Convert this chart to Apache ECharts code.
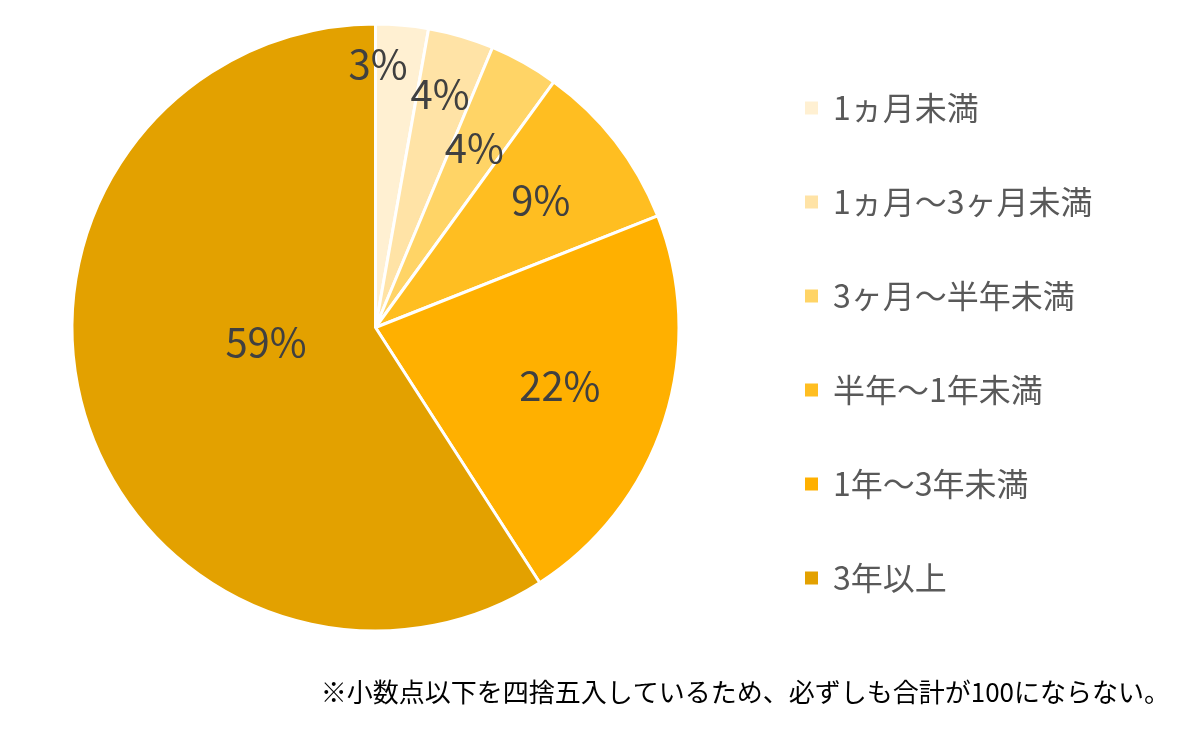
<!DOCTYPE html>
<html>
<head>
<meta charset="utf-8">
<script src="https://cdn.jsdelivr.net/npm/echarts@6/dist/echarts.min.js"></script>
<style>
  html, body { margin: 0; padding: 0; background: #fff; }
  #chart { width: 1200px; height: 730px; }
</style>
</head>
<body>
<div id="chart"></div>
<script>
// 期間ごとの割合（%）
const categories = ['1ヵ月未満', '1ヵ月〜3ヶ月未満', '3ヶ月〜半年未満', '半年〜1年未満', '1年〜3年未満', '3年以上']
const values = [2.8, 3.5, 3.7, 9.0, 21.9, 59.1]
const labels = ['3%', '4%', '4%', '9%', '22%', '59%']
const note = '※小数点以下を四捨五入しているため、必ずしも合計が100にならない。'

const colors = ['#FFF0D2', '#FFE3A6', '#FFD466', '#FFBE21', '#FFB000', '#E3A100']
// ラベルの位置調整（Excelのベストフィット風）
const labelOffsets = [[-11, -110], [21, -85], [23, -45], [43, -33], [37, 11], [39, -29]]

const font = '"Noto Sans CJK JP", "Noto Sans", sans-serif'

let chart = echarts.init(document.getElementById('chart'))

let data = categories.map((name, i) => {
  return {
    name: name,
    value: values[i],
    itemStyle: { color: colors[i] },
    label: { offset: labelOffsets[i] }
  }
})

let option = {
  animation: false,
  legend: {
    orient: 'vertical',
    left: 803,
    top: 91,
    padding: 0,
    icon: 'rect',
    itemWidth: 15,
    itemHeight: 15,
    itemGap: 60,
    textStyle: {
      color: '#595959',
      fontSize: 32,
      lineHeight: 34,
      fontFamily: font,
      padding: [0, 0, 0, 9]
    },
    data: categories
  },
  graphic: [
    {
      type: 'text',
      right: 30,
      top: 679,
      style: {
        text: note,
        fill: '#000',
        font: '26px ' + font
      }
    }
  ],
  series: [
    {
      type: 'pie',
      center: [375.5, 327.5],
      radius: [0, 303.5],
      startAngle: 90,
      clockwise: true,
      itemStyle: {
        borderColor: '#fff',
        borderWidth: 3
      },
      label: {
        show: true,
        position: 'inside',
        color: '#404040',
        fontSize: 40,
        fontFamily: font,
        formatter: (p) => labels[p.dataIndex]
      },
      labelLine: { show: false },
      emphasis: { disabled: true },
      data: data
    }
  ]
}
chart.setOption(option)
</script>
</body>
</html>
